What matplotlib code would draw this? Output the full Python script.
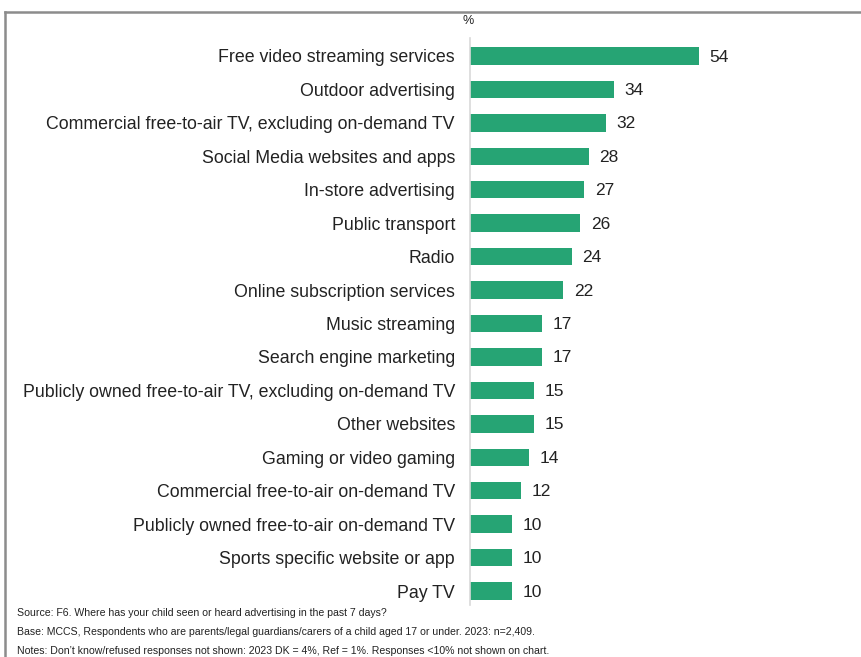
import matplotlib
matplotlib.use("Agg")
import matplotlib.pyplot as plt
from matplotlib.lines import Line2D

categories = [
    "Free video streaming services",
    "Outdoor advertising",
    "Commercial free-to-air TV, excluding on-demand TV",
    "Social Media websites and apps",
    "In-store advertising",
    "Public transport",
    "Radio",
    "Online subscription services",
    "Music streaming",
    "Search engine marketing",
    "Publicly owned free-to-air TV, excluding on-demand TV",
    "Other websites",
    "Gaming or video gaming",
    "Commercial free-to-air on-demand TV",
    "Publicly owned free-to-air on-demand TV",
    "Sports specific website or app",
    "Pay TV",
]
values = [54, 34, 32, 28, 27, 26, 24, 22, 17, 17, 15, 15, 14, 12, 10, 10, 10]

notes = [
    "Source: F6. Where has your child seen or heard advertising in the past 7 days?",
    "Base: MCCS, Respondents who are parents/legal guardians/carers of a child aged 17 or under. 2023: n=2,409.",
    "Notes: Don\u2019t know/refused responses not shown: 2023 DK = 4%, Ref = 1%. Responses <10% not shown on chart.",
]

W, H = 861, 657
fig = plt.figure(figsize=(W / 100, H / 100), dpi=100)
plt.rcParams["font.family"] = ["Liberation Sans", "DejaVu Sans"]

# axes: x=0 at 470px, 4.24 px per unit; rows from y=56 to y=591
x0, ppu = 470, 4.24
xmax = 90
row_top, row_bot = 56, 591
n = len(categories)
step = (row_bot - row_top) / (n - 1)
ax_top = row_top - step * 0.5
ax_bot = row_bot + step * 0.5
ax = fig.add_axes([x0 / W, 1 - ax_bot / H, xmax * ppu / W, (ax_bot - ax_top) / H])
ax.set_xlim(0, xmax)
ax.set_ylim(n - 0.5, -0.5)

green = "#26a474"
ypos = list(range(n))
ax.barh(ypos, values, height=0.52, color=green, edgecolor="none")
for y, v in zip(ypos, values):
    ax.text(v + 2.5, y + 0.03, f"{v}", va="center", ha="left", fontsize=12.5, color="#222222")

ax.set_yticks(ypos)
ax.set_yticklabels(categories, fontsize=12.75, color="#222222")
ax.tick_params(axis="y", length=0, pad=10.8)
ax.set_xticks([])
for s in ["top", "right", "bottom", "left"]:
    ax.spines[s].set_visible(False)

# zero baseline
fig.add_artist(Line2D([x0 / W, x0 / W], [1 - 38 / H, 1 - 605 / H], color="#d9d9d9", lw=1.2))

fig.text(468 / W, 1 - 21 / H, "%", ha="center", va="center", fontsize=9, color="#222222")

for i, t in enumerate(notes):
    fig.text(17 / W, 1 - (613 + i * 19) / H, t, ha="left", va="center", fontsize=7.6, color="#222222")

# outer frame (top and left edges)
fig.add_artist(Line2D([5 / W, 1], [1 - 12 / H, 1 - 12 / H], color="#8c8c8c", lw=1.8))
fig.add_artist(Line2D([5 / W, 5 / W], [1 - 12 / H, 0], color="#8c8c8c", lw=1.8))

fig.savefig("out.png", dpi=100)
